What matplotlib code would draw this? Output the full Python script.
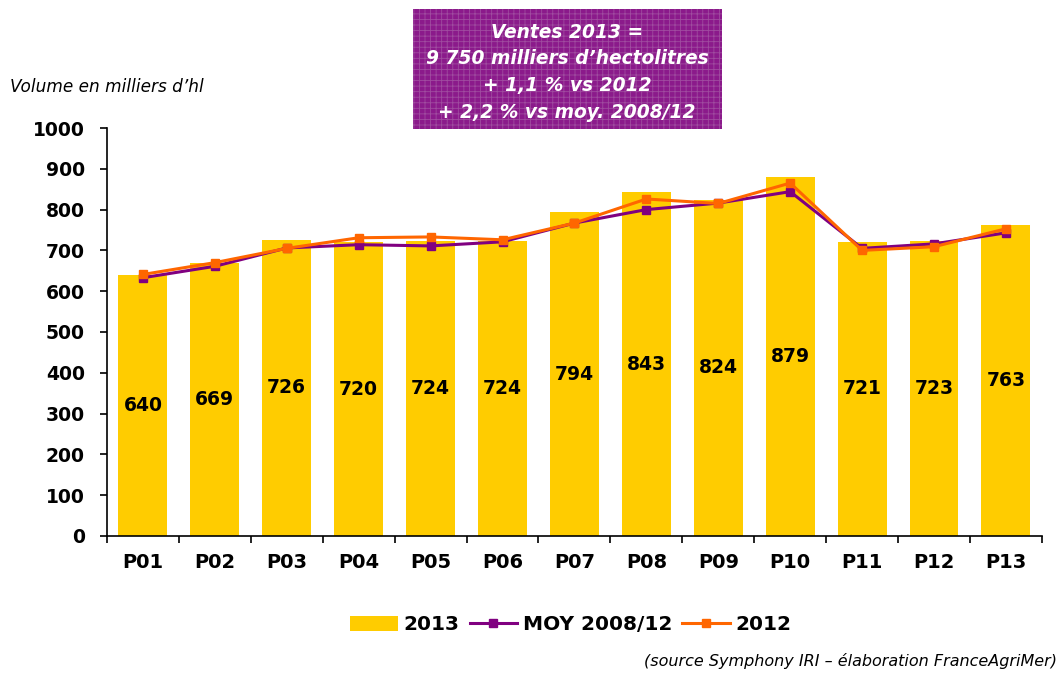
import matplotlib
matplotlib.use('Agg')
from matplotlib import pyplot as plt
import numpy as np

plt.rcParams['font.family'] = ['DejaVu Sans']
plt.rcParams['hatch.linewidth'] = 0.6

# data
periods = ['P01', 'P02', 'P03', 'P04', 'P05', 'P06', 'P07',
           'P08', 'P09', 'P10', 'P11', 'P12', 'P13']
ventes_2013 = [640, 669, 726, 720, 724, 724, 794, 843, 824, 879, 721, 723, 763]
moy_2008_12 = [633, 661, 706, 714, 711, 721, 767, 800, 816, 844, 705, 716, 743]
ventes_2012 = [641, 670, 705, 731, 733, 726, 767, 826, 815, 865, 700, 709, 753]

box_lines = ['Ventes 2013 =', '9 750 milliers d\u2019hectolitres',
             '+ 1,1 % vs 2012', '+ 2,2 % vs moy. 2008/12']

fig = plt.figure(figsize=(10.61, 6.73), dpi=100)
ax = fig.add_axes([0.1008, 0.2036, 0.8812, 0.6062])

x = np.arange(len(periods))
bars = ax.bar(x, ventes_2013, width=0.68, color='#FFCC00', label='2013', zorder=1)
l_moy, = ax.plot(x, moy_2008_12, color='#800080', lw=2.2, marker='s', ms=6,
                 label='MOY 2008/12', zorder=3)
l_2012, = ax.plot(x, ventes_2012, color='#FF6600', lw=2.2, marker='s', ms=6,
                  label='2012', zorder=4)

# value labels in the middle of each bar
for xi, v in zip(x, ventes_2013):
    ax.text(xi, v / 2, str(v), ha='center', va='center',
            fontsize=13.5, fontweight='bold', color='black', zorder=5)

ax.set_xlim(-0.5, len(periods) - 0.5)
ax.set_ylim(0, 1000)
ax.set_yticks(range(0, 1001, 100))
ax.set_xticks(x)
ax.set_xticklabels(periods, fontsize=14, fontweight='bold')
ax.tick_params(axis='x', length=0, pad=12)
ax.set_xticks(np.arange(-0.5, len(periods), 1), minor=True)
ax.tick_params(axis='x', which='minor', length=5, width=1.2, direction='out')
ax.tick_params(axis='y', length=5, width=1.2, direction='out', pad=11)
for lab in ax.get_yticklabels():
    lab.set_fontsize(13.5)
    lab.set_fontweight('bold')

for side in ['top', 'right']:
    ax.spines[side].set_visible(False)
for side in ['left', 'bottom']:
    ax.spines[side].set_linewidth(1.2)

# y axis caption
fig.text(10 / 1061, 1 - 87 / 673, "Volume en milliers d\u2019hl",
         fontsize=12.2, style='italic', ha='left', va='center')

# purple title box
fig.patches.append(plt.Rectangle((413 / 1061, 1 - 129 / 673), 309 / 1061, 120 / 673,
                                 transform=fig.transFigure, facecolor='#8B1A8B',
                                 edgecolor='#A04CA0', linewidth=0, hatch='+++',
                                 zorder=0))
for i, line in enumerate(box_lines):
    fig.text(567 / 1061, 1 - (32 + 27 * i) / 673, line, color='white',
             fontsize=13.4, fontweight='bold', style='italic',
             ha='center', va='center')

# legend
ax.legend([bars, l_moy, l_2012], ['2013', 'MOY 2008/12', '2012'],
          loc='center', bbox_to_anchor=(571 / 1061, 1 - 625 / 673),
          bbox_transform=fig.transFigure, ncol=3, frameon=False,
          prop={'weight': 'bold', 'size': 14.5}, handlelength=2.35,
          columnspacing=0.5, handletextpad=0.3)

fig.text(1057 / 1061, 1 - 661 / 673,
         '(source Symphony IRI \u2013 \u00e9laboration FranceAgriMer)',
         fontsize=11.5, style='italic', ha='right', va='center')

plt.savefig('out.png', dpi=100)
